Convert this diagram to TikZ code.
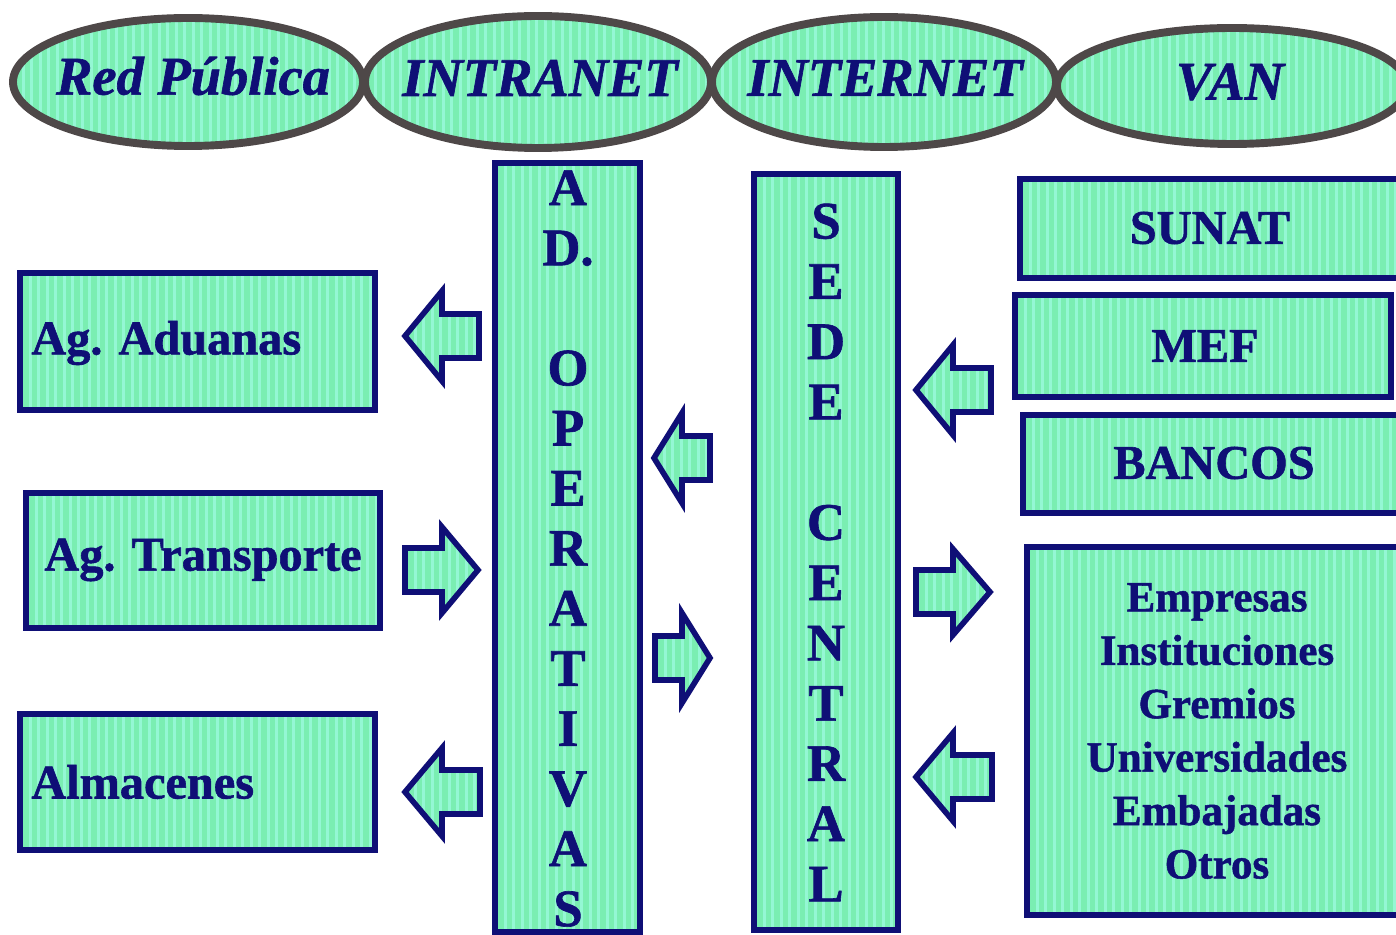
\documentclass[tikz,border=0pt]{standalone}
\usepackage{fontspec}
\setmainfont{Liberation Serif}[BoldFeatures={FakeBold=1.2},BoldItalicFeatures={FakeBold=1.2}]
\usetikzlibrary{shapes.geometric,fit}
\definecolor{mint}{RGB}{122,238,178}
\definecolor{mintlt}{RGB}{148,247,212}
\definecolor{navy}{RGB}{15,15,118}
\definecolor{ovalrim}{RGB}{78,72,72}
\tikzset{
  stripes/.style={path picture={
    \foreach \i in {0,8.5,...,420}{
      \fill[mintlt] ([xshift=\i*0.02cm]path picture bounding box.south west)
        rectangle ([xshift=\i*0.02cm+3*0.02cm]path picture bounding box.north west);}}},
  box/.style={draw=navy, line width=3.6pt, fill=mint, stripes, inner sep=0pt},
  oval/.style={ellipse, draw=ovalrim, line width=4.5pt, fill=mint, stripes, inner sep=0pt},
  ovaltxt/.style={font=\fontsize{31}{36}\selectfont\bfseries\itshape, text=navy, inner sep=0pt},
  lbl/.style={font=\fontsize{27.5}{33}\selectfont\bfseries, text=navy, inner sep=0pt},
  vert/.style={font=\fontsize{30}{34.2}\selectfont\bfseries, text=navy, align=center, inner sep=0pt},
  listtxt/.style={font=\fontsize{24.5}{30.4}\selectfont\bfseries, text=navy, align=center, inner sep=0pt},
  blk/.style={draw=navy, line width=3.2pt, fill=mint, stripes, line join=miter},
}
\newcommand\blkarrow[5]{% tip, head base, back, center y, head half-height
  \draw[blk] (#3,#4-22) -- (#2,#4-22) -- (#2,#4-#5) -- (#1,#4) -- (#2,#4+#5) -- (#2,#4+22) -- (#3,#4+22) -- cycle;}
\begin{document}
\begin{tikzpicture}[x=0.02cm, y=-0.02cm]
\useasboundingbox[fill=white] (0,0) rectangle (1396,935);

% top ovals
\node[oval, minimum width=350*0.02cm, minimum height=128*0.02cm] (red) at (188,82) {};
\node[oval, minimum width=346*0.02cm, minimum height=132*0.02cm] (intra) at (538,82) {};
\node[oval, minimum width=344*0.02cm, minimum height=130*0.02cm] (inter) at (884,82) {};
\node[oval, minimum width=350*0.02cm, minimum height=116*0.02cm] (van) at (1232,86) {};
\node[ovaltxt] (redt) at (193,76) {Red Pública};
\node[ovaltxt] (intrat) at (540,78) {INTRANET};
\node[ovaltxt] (intert) at (885,78) {INTERNET};
\node[ovaltxt] (vant) at (1230,82) {VAN};

% left boxes
\node[box, fit={(20,273) (375,410)}] (agad) {};
\node[lbl, anchor=west] (agadt) at (31,343) {Ag. Aduanas};
\node[box, fit={(26,493) (380,628)}] (agtr) {};
\node[lbl] (agtrt) at (203,560) {Ag. Transporte};
\node[box, fit={(20,714) (375,850)}] (alm) {};
\node[lbl, anchor=west] (almt) at (31,782) {Almacenes};

% columns
\node[box, fit={(495,163) (640,932)}] (adop) {};
\node[vert] (adopt) at (568,548.5) {A\\D.\\[34.2pt]O\\P\\E\\R\\A\\T\\I\\V\\A\\S};
\node[box, fit={(754,174) (898,930)}] (sede) {};
\node[vert, font=\fontsize{30}{34.3}\selectfont\bfseries] (sedet) at (826,552.5) {S\\E\\D\\E\\[34.3pt]C\\E\\N\\T\\R\\A\\L};

% right boxes
\node[box, fit={(1020,179) (1412,278)}] (sunat) {};
\node[lbl] (sunatt) at (1210,228) {SUNAT};
\node[box, fit={(1015,295) (1391,397)}] (mef) {};
\node[lbl] (meft) at (1205,346) {MEF};
\node[box, fit={(1023,415) (1412,513)}] (bancos) {};
\node[lbl] (bancost) at (1214,463) {BANCOS};
\node[box, fit={(1027,547) (1412,915)}] (emp) {};
\node[listtxt] (empt) at (1217,731) {Empresas\\Instituciones\\Gremios\\Universidades\\Embajadas\\Otros};

% block arrows
\blkarrow{405}{442}{479}{336}{45}
\blkarrow{478}{442}{405}{570}{43}
\blkarrow{405}{442}{480}{792}{44}
\blkarrow{654}{682}{710}{458}{45}
\blkarrow{710}{682}{655}{658}{45}
\blkarrow{916}{953}{991}{390}{45}
\blkarrow{990}{953}{916}{592}{43}
\blkarrow{916}{953}{992}{777}{44}
\end{tikzpicture}
\end{document}
